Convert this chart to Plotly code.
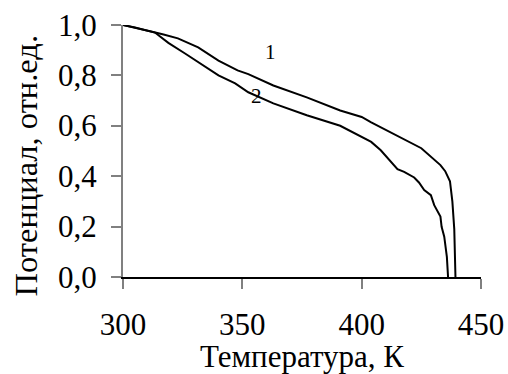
import plotly.graph_objects as go

# Curve 1: temperature (K) and relative potential
t1 = [300, 305, 311.8, 317, 323, 331.5, 340, 348, 352.5, 363, 377, 391, 400, 404,
      408, 416, 425, 433, 435, 437, 438, 438.8, 439.2, 439.3]
v1 = [1.000, 0.990, 0.974, 0.962, 0.947, 0.911, 0.859, 0.820, 0.805, 0.760, 0.713,
      0.661, 0.635, 0.614, 0.594, 0.554, 0.511, 0.444, 0.420, 0.380, 0.300, 0.190,
      0.080, 0.000]

# Curve 2
t2 = [300, 305, 313.4, 319, 326, 333, 340, 347, 352.5, 363, 377, 391, 400, 404,
      408, 412.2, 415, 417.8, 422, 424, 426.2, 429, 430.4, 433, 433.5, 434.6, 435.7,
      436.2]
v2 = [1.000, 0.990, 0.970, 0.929, 0.887, 0.844, 0.800, 0.768, 0.733, 0.689, 0.642,
      0.600, 0.556, 0.536, 0.503, 0.457, 0.428, 0.417, 0.395, 0.375, 0.345, 0.325,
      0.285, 0.240, 0.199, 0.160, 0.080, 0.000]

x_ticks = [300, 350, 400, 450]
y_ticks = [0.0, 0.2, 0.4, 0.6, 0.8, 1.0]
y_tick_text = [f"{v:.1f}".replace(".", ",") for v in y_ticks]

FONT = "'Liberation Serif', 'Times New Roman', serif"

fig = go.Figure()
for t, v in ((t1, v1), (t2, v2)):
    fig.add_trace(go.Scatter(x=t, y=v, mode="lines",
                             line=dict(color="black", width=2),
                             showlegend=False, hoverinfo="skip"))

fig.add_annotation(x=361.8, y=0.891, text="1", showarrow=False,
                   font=dict(family=FONT, size=21, color="black"))
fig.add_annotation(x=355.9, y=0.717, text="2", showarrow=False,
                   font=dict(family=FONT, size=21, color="black"))

# y tick labels set a little further from the tick marks
for v, txt in zip(y_ticks, y_tick_text):
    fig.add_annotation(xref="paper", yref="y", x=-0.066, y=v, text=txt,
                       showarrow=False, xanchor="right", yanchor="middle",
                       font=dict(family=FONT, size=31, color="black"))

# vertical axis title, placed as a rotated annotation
fig.add_annotation(xref="paper", yref="paper", x=-0.27, y=0.44,
                   text="Потенциал, отн.ед.", textangle=-90, showarrow=False,
                   xanchor="center", yanchor="middle",
                   font=dict(family=FONT, size=32.5, color="black"))

fig.update_layout(
    width=508, height=374,
    margin=dict(l=123, r=27, t=25, b=97),
    paper_bgcolor="white", plot_bgcolor="white",
    font=dict(family=FONT, size=31, color="black"),
    xaxis=dict(
        range=[300, 450], tickvals=x_ticks, ticks="outside", ticklen=10,
        tickwidth=1.5, tickcolor="#808080", showline=True, linecolor="black",
        linewidth=1.5, showgrid=False, zeroline=False, automargin=False,
        ticklabelstandoff=9,
        tickfont=dict(family=FONT, size=31, color="black"),
        title=dict(text="Температура, К", standoff=0,
                   font=dict(family=FONT, size=31, color="black")),
    ),
    yaxis=dict(
        range=[0, 1], tickvals=y_ticks, showticklabels=False, ticks="outside",
        ticklen=10, tickwidth=1.5, tickcolor="#808080", showline=True,
        linecolor="#808080", linewidth=1.5, showgrid=False, zeroline=False,
        automargin=False,
    ),
)

fig.write_html("out.html")
